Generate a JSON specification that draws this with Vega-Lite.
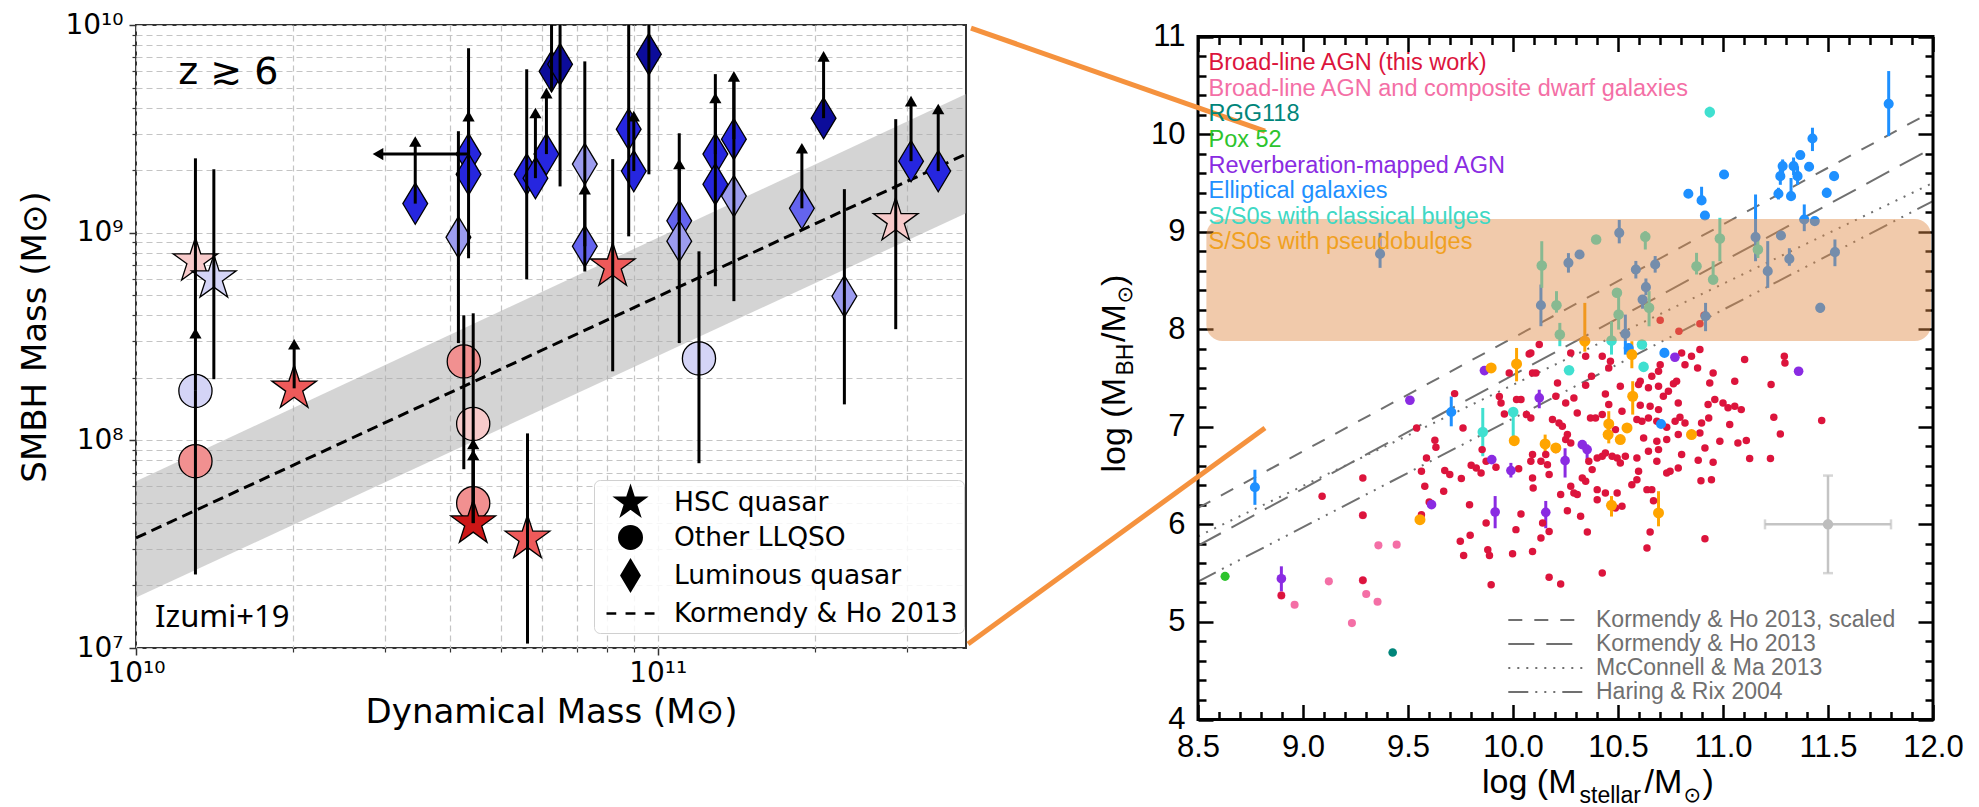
{
"$schema": "https://vega.github.io/schema/vega-lite/v6.json",
"background": "white",
"padding": {"left": 17, "top": 4, "right": 10, "bottom": 2},
"spacing": -8,
"columns": 2,
"align": "none",
"bounds": "full",
"resolve": {"scale": {"color": "independent", "shape": "independent", "size": "independent", "strokeDash": "independent"}, "legend": {"color": "independent", "shape": "independent", "size": "independent", "strokeDash": "independent"}},
"config": {"axis": {"labelBound": false, "labelFlush": false, "labelOverlap": false}, "legend": {"labelLimit": 0}},
"datasets": {
"kh": [{"x": 1e10, "y": 3.39e7, "lo": 1.75e7, "hi": 6.35e7}, {"x": 3.9e11, "y": 2.39e9, "lo": 1.24e9, "hi": 4.65e9}],
"lpts": [
{"x":1.30e10,"y":7.3e8,"kind":"HSC quasar","tone":"r0","lo":3.3e8,"hi":2.28e9},
{"x":1.41e10,"y":6.04e8,"kind":"HSC quasar","tone":"b0","lo":1.97e8,"hi":2.02e9},
{"x":1.30e10,"y":1.73e8,"kind":"Other LLQSO","tone":"b0","lim":3.28e8},
{"x":1.30e10,"y":7.94e7,"kind":"Other LLQSO","tone":"r1","lo":2.26e7,"hi":1.73e8},
{"x":2.01e10,"y":1.78e8,"kind":"HSC quasar","tone":"r2","lim":2.9e8},
{"x":3.43e10,"y":1.38e9,"kind":"Luminous quasar","tone":"b3","lim":2.75e9},
{"x":4.34e10,"y":2.39e9,"kind":"Luminous quasar","tone":"b3","lo":7.53e8,"hi":7.73e9,"lim":3.64e9,"xlim":2.91e10},
{"x":4.34e10,"y":1.91e9,"kind":"Luminous quasar","tone":"b3"},
{"x":4.15e10,"y":9.5e8,"kind":"Luminous quasar","tone":"b1","lo":2.94e8,"hi":3.08e9},
{"x":4.25e10,"y":2.4e8,"kind":"Other LLQSO","tone":"r1","lo":7.26e7,"hi":4.0e8},
{"x":4.43e10,"y":1.2e8,"kind":"Other LLQSO","tone":"r0","lo":4.0e7,"hi":4.09e8},
{"x":4.43e10,"y":4.98e7,"kind":"Other LLQSO","tone":"r1","lim":8.5e7},
{"x":4.43e10,"y":3.99e7,"kind":"HSC quasar","tone":"r3","lim":9.6e7},
{"x":5.63e10,"y":3.37e7,"kind":"HSC quasar","tone":"r2","lo":1.05e7,"hi":1.08e8},
{"x":5.61e10,"y":1.91e9,"kind":"Luminous quasar","tone":"b3","lo":5.96e8,"hi":6.12e9},
{"x":5.83e10,"y":1.83e9,"kind":"Luminous quasar","tone":"b3","lim":3.77e9},
{"x":6.12e10,"y":2.39e9,"kind":"Luminous quasar","tone":"b3","lim":4.7e9},
{"x":6.26e10,"y":5.98e9,"kind":"Luminous quasar","tone":"b4","lo":4.8e9,"hi":1e10},
{"x":6.50e10,"y":6.47e9,"kind":"Luminous quasar","tone":"b4","lo":1.67e9,"hi":1e10},
{"x":7.25e10,"y":2.14e9,"kind":"Luminous quasar","tone":"b1","lo":6.5e8,"hi":6.68e9},
{"x":7.25e10,"y":8.6e8,"kind":"Luminous quasar","tone":"b2","lim":1.62e9},
{"x":8.2e10,"y":6.89e8,"kind":"HSC quasar","tone":"r2","lo":2.15e8,"hi":2.26e9},
{"x":8.8e10,"y":3.15e9,"kind":"Luminous quasar","tone":"b3","lo":9.6e8,"hi":1e10},
{"x":9.0e10,"y":1.98e9,"kind":"Luminous quasar","tone":"b3","lim":3.64e9},
{"x":9.62e10,"y":7.23e9,"kind":"Luminous quasar","tone":"b4","lo":1.91e9,"hi":1e10},
{"x":1.10e11,"y":1.14e9,"kind":"Luminous quasar","tone":"b2","lim":2.14e9},
{"x":1.10e11,"y":9.1e8,"kind":"Luminous quasar","tone":"b1","lo":2.94e8,"hi":3.01e9},
{"x":1.20e11,"y":2.48e8,"kind":"Other LLQSO","tone":"b0","lo":7.76e7,"hi":8.13e8},
{"x":1.29e11,"y":2.39e9,"kind":"Luminous quasar","tone":"b3","lim":4.45e9},
{"x":1.29e11,"y":1.71e9,"kind":"Luminous quasar","tone":"b3","lo":5.52e8,"hi":5.8e9},
{"x":1.40e11,"y":2.82e9,"kind":"Luminous quasar","tone":"b3","lo":4.68e8,"hi":5.66e9,"lim":5.66e9},
{"x":1.40e11,"y":1.5e9,"kind":"Luminous quasar","tone":"b1"},
{"x":1.89e11,"y":1.31e9,"kind":"Luminous quasar","tone":"b2","lim":2.55e9},
{"x":2.08e11,"y":3.56e9,"kind":"Luminous quasar","tone":"b4","lim":7.06e9},
{"x":2.28e11,"y":4.94e8,"kind":"Luminous quasar","tone":"b1","lo":1.49e8,"hi":1.62e9},
{"x":2.86e11,"y":1.14e9,"kind":"HSC quasar","tone":"r0","lo":3.43e8,"hi":3.52e9},
{"x":3.06e11,"y":2.21e9,"kind":"Luminous quasar","tone":"b3","lim":4.3e9},
{"x":3.45e11,"y":1.98e9,"kind":"Luminous quasar","tone":"b3","lim":3.94e9}
],
"rlines": [
{"model":"Kormendy & Ho 2013, scaled","x":8.5,"y":6.168},{"model":"Kormendy & Ho 2013, scaled","x":12,"y":10.236},
{"model":"Kormendy & Ho 2013","x":8.5,"y":5.782},{"model":"Kormendy & Ho 2013","x":12,"y":9.86},
{"model":"McConnell & Ma 2013","x":8.5,"y":5.877},{"model":"McConnell & Ma 2013","x":12,"y":9.5},
{"model":"Haring & Rix 2004","x":8.5,"y":5.414},{"model":"Haring & Rix 2004","x":12,"y":9.313}
],
"cross": [{"x":11.5,"y":6.0,"xlo":11.2,"xhi":11.8,"ylo":5.5,"yhi":6.5}],
"rpts": [
{"cat":"dwarf","x":9.359,"y":5.785},{"cat":"dwarf","x":9.446,"y":5.792},{"cat":"dwarf","x":9.123,"y":5.416},{"cat":"dwarf","x":8.96,"y":5.176},{"cat":"dwarf","x":8.897,"y":5.272},{"cat":"dwarf","x":9.233,"y":4.988},{"cat":"dwarf","x":9.301,"y":5.286},{"cat":"dwarf","x":9.355,"y":5.207},{"cat":"dwarf","x":9.285,"y":6.093},{"cat":"dwarf","x":9.285,"y":5.426},
{"cat":"agn","x":9.722,"y":7.34},{"cat":"agn","x":9.541,"y":6.988},{"cat":"agn","x":9.628,"y":6.862},{"cat":"agn","x":9.633,"y":6.79},{"cat":"agn","x":9.588,"y":6.681},{"cat":"agn","x":9.564,"y":6.544},{"cat":"agn","x":9.58,"y":6.39},{"cat":"agn","x":9.601,"y":6.229},{"cat":"agn","x":9.564,"y":6.099},{"cat":"agn","x":9.675,"y":6.551},
{"cat":"agn","x":9.699,"y":6.51},{"cat":"agn","x":9.67,"y":6.339},{"cat":"agn","x":9.754,"y":6.469},{"cat":"agn","x":9.762,"y":6.988},{"cat":"agn","x":9.793,"y":6.202},{"cat":"agn","x":9.801,"y":6.605},{"cat":"agn","x":9.825,"y":6.578},{"cat":"agn","x":9.848,"y":6.527},{"cat":"agn","x":9.853,"y":6.766},{"cat":"agn","x":9.872,"y":6.646},
{"cat":"agn","x":9.919,"y":6.585},{"cat":"agn","x":9.935,"y":7.31},{"cat":"agn","x":9.943,"y":7.245},{"cat":"agn","x":9.959,"y":7.132},{"cat":"agn","x":10.017,"y":7.28},{"cat":"agn","x":10.038,"y":7.28},{"cat":"agn","x":10.064,"y":7.125},{"cat":"agn","x":10.085,"y":7.091},{"cat":"agn","x":10.085,"y":6.646},{"cat":"agn","x":10.093,"y":6.476},
{"cat":"agn","x":10.096,"y":6.373},{"cat":"agn","x":10.027,"y":6.571},{"cat":"agn","x":10.014,"y":5.946},{"cat":"agn","x":10.038,"y":6.106},{"cat":"agn","x":9.872,"y":6.014},{"cat":"agn","x":9.88,"y":5.74},{"cat":"agn","x":9.888,"y":5.682},{"cat":"agn","x":9.896,"y":5.381},{"cat":"agn","x":9.796,"y":5.888},{"cat":"agn","x":9.749,"y":5.826},
{"cat":"agn","x":9.765,"y":5.682},{"cat":"agn","x":9.998,"y":5.699},{"cat":"agn","x":10.093,"y":5.723},{"cat":"agn","x":9.091,"y":6.288},{"cat":"agn","x":9.285,"y":6.476},{"cat":"agn","x":9.285,"y":6.093},{"cat":"agn","x":9.285,"y":5.426},{"cat":"agn","x":8.897,"y":5.272},
{"cat":"agn","x":10.212,"y":7.45},{"cat":"agn","x":10.346,"y":7.426},{"cat":"agn","x":10.44,"y":7.337},{"cat":"agn","x":10.511,"y":7.416},{"cat":"agn","x":10.598,"y":7.433},{"cat":"agn","x":10.645,"y":7.399},{"cat":"agn","x":10.693,"y":7.416},{"cat":"agn","x":10.74,"y":7.364},{"cat":"agn","x":10.764,"y":7.44},{"cat":"agn","x":10.937,"y":7.45},
{"cat":"agn","x":11.056,"y":7.467},{"cat":"agn","x":11.229,"y":7.433},{"cat":"agn","x":10.204,"y":7.313},{"cat":"agn","x":10.251,"y":7.245},{"cat":"agn","x":10.29,"y":7.296},{"cat":"agn","x":10.456,"y":7.228},{"cat":"agn","x":10.519,"y":7.159},{"cat":"agn","x":10.606,"y":7.221},{"cat":"agn","x":10.653,"y":7.211},{"cat":"agn","x":10.693,"y":7.176},
{"cat":"agn","x":10.716,"y":7.313},{"cat":"agn","x":10.787,"y":7.245},{"cat":"agn","x":10.929,"y":7.228},{"cat":"agn","x":10.961,"y":7.279},{"cat":"agn","x":11.0,"y":7.245},{"cat":"agn","x":11.024,"y":7.194},{"cat":"agn","x":11.056,"y":7.211},{"cat":"agn","x":11.087,"y":7.176},{"cat":"agn","x":11.242,"y":7.098},{"cat":"agn","x":11.47,"y":7.064},
{"cat":"agn","x":11.273,"y":6.927},{"cat":"agn","x":10.188,"y":7.074},{"cat":"agn","x":10.219,"y":7.04},{"cat":"agn","x":10.235,"y":7.005},{"cat":"agn","x":10.306,"y":7.142},{"cat":"agn","x":10.369,"y":7.091},{"cat":"agn","x":10.393,"y":7.091},{"cat":"agn","x":10.425,"y":7.125},{"cat":"agn","x":10.59,"y":7.074},{"cat":"agn","x":10.614,"y":7.057},
{"cat":"agn","x":10.645,"y":7.091},{"cat":"agn","x":10.685,"y":7.057},{"cat":"agn","x":10.732,"y":6.995},{"cat":"agn","x":10.772,"y":7.057},{"cat":"agn","x":10.795,"y":7.098},{"cat":"agn","x":10.819,"y":7.04},{"cat":"agn","x":10.89,"y":6.937},{"cat":"agn","x":10.898,"y":7.04},{"cat":"agn","x":10.914,"y":6.783},{"cat":"agn","x":10.932,"y":7.091},
{"cat":"agn","x":10.985,"y":6.852},{"cat":"agn","x":11.032,"y":7.023},{"cat":"agn","x":11.071,"y":6.835},{"cat":"agn","x":11.111,"y":6.859},{"cat":"agn","x":11.127,"y":6.674},{"cat":"agn","x":11.226,"y":6.674},{"cat":"agn","x":10.488,"y":6.971},{"cat":"agn","x":10.622,"y":6.886},{"cat":"agn","x":10.685,"y":6.852},{"cat":"agn","x":10.732,"y":6.869},
{"cat":"agn","x":10.787,"y":6.92},{"cat":"agn","x":10.093,"y":6.715},{"cat":"agn","x":10.156,"y":6.715},{"cat":"agn","x":10.164,"y":6.612},{"cat":"agn","x":10.133,"y":6.646},{"cat":"agn","x":10.204,"y":6.766},{"cat":"agn","x":10.251,"y":6.869},{"cat":"agn","x":10.259,"y":6.92},{"cat":"agn","x":10.275,"y":6.835},{"cat":"agn","x":10.361,"y":6.646},
{"cat":"agn","x":10.377,"y":6.561},{"cat":"agn","x":10.33,"y":6.476},{"cat":"agn","x":10.346,"y":6.441},{"cat":"agn","x":10.401,"y":6.681},{"cat":"agn","x":10.425,"y":6.698},{"cat":"agn","x":10.44,"y":6.732},{"cat":"agn","x":10.472,"y":6.698},{"cat":"agn","x":10.496,"y":6.681},{"cat":"agn","x":10.511,"y":6.629},{"cat":"agn","x":10.535,"y":6.698},
{"cat":"agn","x":10.59,"y":6.681},{"cat":"agn","x":10.598,"y":6.544},{"cat":"agn","x":10.59,"y":6.458},{"cat":"agn","x":10.566,"y":6.407},{"cat":"agn","x":10.645,"y":6.749},{"cat":"agn","x":10.685,"y":6.646},{"cat":"agn","x":10.693,"y":6.766},{"cat":"agn","x":10.732,"y":6.527},{"cat":"agn","x":10.748,"y":6.544},{"cat":"agn","x":10.787,"y":6.578},
{"cat":"agn","x":10.803,"y":6.715},{"cat":"agn","x":10.882,"y":6.657},{"cat":"agn","x":10.953,"y":6.636},{"cat":"agn","x":10.895,"y":6.448},{"cat":"agn","x":10.945,"y":6.458},{"cat":"agn","x":10.172,"y":6.51},{"cat":"agn","x":10.227,"y":6.305},{"cat":"agn","x":10.275,"y":6.39},{"cat":"agn","x":10.29,"y":6.322},{"cat":"agn","x":10.306,"y":6.305},
{"cat":"agn","x":10.401,"y":6.356},{"cat":"agn","x":10.401,"y":6.253},{"cat":"agn","x":10.44,"y":6.322},{"cat":"agn","x":10.496,"y":6.322},{"cat":"agn","x":10.519,"y":6.185},{"cat":"agn","x":10.488,"y":6.168},{"cat":"agn","x":10.638,"y":6.356},{"cat":"agn","x":10.661,"y":6.356},{"cat":"agn","x":10.669,"y":6.243},{"cat":"agn","x":10.133,"y":5.86},
{"cat":"agn","x":10.141,"y":6.014},{"cat":"agn","x":10.172,"y":5.928},{"cat":"agn","x":10.259,"y":6.14},{"cat":"agn","x":10.322,"y":6.082},{"cat":"agn","x":10.354,"y":5.922},{"cat":"agn","x":10.172,"y":5.457},{"cat":"agn","x":10.227,"y":5.388},{"cat":"agn","x":10.425,"y":5.501},{"cat":"agn","x":10.638,"y":5.758},{"cat":"agn","x":10.653,"y":5.922},
{"cat":"agn","x":10.914,"y":5.853},{"cat":"agn","x":10.077,"y":7.747},{"cat":"agn","x":10.125,"y":7.843},{"cat":"agn","x":10.109,"y":7.552},{"cat":"agn","x":10.275,"y":7.757},{"cat":"agn","x":10.346,"y":7.723},{"cat":"agn","x":10.374,"y":7.518},{"cat":"agn","x":10.425,"y":7.723},{"cat":"agn","x":10.464,"y":7.672},{"cat":"agn","x":10.456,"y":7.603},
{"cat":"agn","x":10.606,"y":7.467},{"cat":"agn","x":10.661,"y":7.518},{"cat":"agn","x":10.693,"y":7.569},{"cat":"agn","x":10.701,"y":7.637},{"cat":"agn","x":10.779,"y":7.467},{"cat":"agn","x":10.803,"y":7.757},{"cat":"agn","x":10.819,"y":7.637},{"cat":"agn","x":10.85,"y":7.723},{"cat":"agn","x":10.879,"y":7.603},{"cat":"agn","x":10.89,"y":7.791},
{"cat":"agn","x":10.953,"y":7.552},{"cat":"agn","x":11.103,"y":7.689},{"cat":"agn","x":11.292,"y":7.723},{"cat":"agn","x":11.295,"y":7.655},{"cat":"agn","x":10.701,"y":8.092},{"cat":"agn","x":10.79,"y":7.979},{"cat":"agn","x":10.89,"y":8.055},{"cat":"agn","x":10.91,"y":8.144},{"cat":"agn","x":9.982,"y":7.552},{"cat":"agn","x":10.085,"y":7.757},{"cat":"agn","x":10.093,"y":7.552},
{"cat":"pox","x":8.629,"y":5.467},
{"cat":"rgg","x":9.427,"y":4.687},
{"cat":"rm","x":9.509,"y":7.272},{"cat":"rm","x":8.897,"y":5.443,"lo":5.31,"hi":5.57},{"cat":"rm","x":9.612,"y":6.202},{"cat":"rm","x":9.899,"y":6.664},{"cat":"rm","x":9.915,"y":6.127,"lo":5.96,"hi":6.29},{"cat":"rm","x":9.99,"y":6.551,"lo":6.48,"hi":6.63},{"cat":"rm","x":9.864,"y":7.576},{"cat":"rm","x":10.771,"y":7.713},{"cat":"rm","x":11.36,"y":7.569},{"cat":"rm","x":10.125,"y":7.296,"lo":7.19,"hi":7.38},{"cat":"rm","x":10.33,"y":6.817},{"cat":"rm","x":10.353,"y":6.766,"lo":6.66,"hi":6.82},{"cat":"rm","x":10.248,"y":6.653,"lo":6.48,"hi":6.78},{"cat":"rm","x":10.156,"y":6.123,"lo":5.96,"hi":6.24},
{"cat":"ell","x":11.789,"y":10.31,"lo":9.979,"hi":10.646},{"cat":"ell","x":11.426,"y":9.955,"lo":9.826,"hi":10.065},{"cat":"ell","x":11.368,"y":9.785},{"cat":"ell","x":11.284,"y":9.672,"lo":9.6,"hi":9.74},{"cat":"ell","x":11.336,"y":9.672,"lo":9.58,"hi":9.76},{"cat":"ell","x":11.273,"y":9.569,"lo":9.48,"hi":9.66},{"cat":"ell","x":11.355,"y":9.569,"lo":9.48,"hi":9.67},{"cat":"ell","x":11.41,"y":9.665},{"cat":"ell","x":11.529,"y":9.569},{"cat":"ell","x":11.264,"y":9.388,"lo":9.33,"hi":9.45},
{"cat":"ell","x":11.324,"y":9.364,"lo":9.33,"hi":9.55},{"cat":"ell","x":11.494,"y":9.398,"lo":9.35,"hi":9.45},{"cat":"ell","x":10.835,"y":9.388},{"cat":"ell","x":10.898,"y":9.32,"lo":9.28,"hi":9.46},{"cat":"ell","x":10.914,"y":9.166},{"cat":"ell","x":11.005,"y":9.586,"lo":9.55,"hi":9.62},{"cat":"ell","x":10.506,"y":8.988,"lo":8.88,"hi":9.12},{"cat":"ell","x":10.264,"y":8.68,"lo":8.58,"hi":8.78},{"cat":"ell","x":10.317,"y":8.766},{"cat":"ell","x":10.133,"y":8.246,"lo":8.031,"hi":8.458},
{"cat":"ell","x":10.585,"y":8.612,"lo":8.52,"hi":8.7},{"cat":"ell","x":10.677,"y":8.663,"lo":8.58,"hi":8.75},{"cat":"ell","x":10.633,"y":8.431,"lo":8.35,"hi":8.52},{"cat":"ell","x":10.617,"y":8.304,"lo":8.21,"hi":8.35},{"cat":"ell","x":10.535,"y":7.952,"lo":7.74,"hi":8.15},{"cat":"ell","x":10.917,"y":8.133,"lo":7.98,"hi":8.27},{"cat":"ell","x":11.155,"y":8.944,"lo":8.697,"hi":9.381},{"cat":"ell","x":11.213,"y":8.595,"lo":8.424,"hi":8.903},{"cat":"ell","x":11.276,"y":8.961},{"cat":"ell","x":11.316,"y":8.721,"lo":8.65,"hi":8.83},
{"cat":"ell","x":11.387,"y":9.125,"lo":9.005,"hi":9.279},{"cat":"ell","x":11.437,"y":9.108},{"cat":"ell","x":11.533,"y":8.79,"lo":8.646,"hi":8.92},{"cat":"ell","x":11.463,"y":8.219,"lo":8.17,"hi":8.27},{"cat":"ell","x":9.367,"y":8.772,"lo":8.629,"hi":8.988},{"cat":"ell","x":8.771,"y":6.38,"lo":6.2,"hi":6.56},{"cat":"ell","x":9.706,"y":7.152,"lo":7.005,"hi":7.31},{"cat":"ell","x":10.721,"y":7.757},{"cat":"ell","x":10.705,"y":7.029},{"cat":"ell","x":10.551,"y":7.808},
{"cat":"cb","x":10.137,"y":8.653,"lo":8.424,"hi":8.902},{"cat":"cb","x":10.207,"y":8.246,"lo":8.17,"hi":8.39},{"cat":"cb","x":10.396,"y":8.92},{"cat":"cb","x":10.63,"y":8.947,"lo":8.817,"hi":9.005},{"cat":"cb","x":10.874,"y":8.646,"lo":8.561,"hi":8.783},{"cat":"cb","x":10.953,"y":8.509,"lo":8.458,"hi":8.697},{"cat":"cb","x":10.985,"y":8.93,"lo":8.697,"hi":9.142},{"cat":"cb","x":11.166,"y":8.817,"lo":8.73,"hi":8.97},{"cat":"cb","x":10.495,"y":8.373},{"cat":"cb","x":10.503,"y":8.15,"lo":7.996,"hi":8.355},
{"cat":"cb","x":10.648,"y":8.219,"lo":8.03,"hi":8.39},{"cat":"cb","x":10.223,"y":7.945,"lo":7.826,"hi":8.065},{"cat":"cb","x":10.469,"y":7.884,"lo":7.74,"hi":8.08},{"cat":"cb","x":10.937,"y":10.226,"lo":10.17,"hi":10.28},{"cat":"cb","x":10.614,"y":7.843},{"cat":"cb","x":10.622,"y":7.614},{"cat":"cb","x":10.267,"y":7.579},{"cat":"cb","x":9.856,"y":6.947,"lo":6.698,"hi":7.193},{"cat":"cb","x":10.001,"y":7.152,"lo":6.9,"hi":7.16},
{"cat":"pb","x":10.342,"y":7.877,"lo":7.77,"hi":8.27},{"cat":"pb","x":10.017,"y":7.644,"lo":7.466,"hi":7.808},{"cat":"pb","x":10.566,"y":7.74,"lo":7.6,"hi":7.877},{"cat":"pb","x":9.896,"y":7.603},{"cat":"pb","x":9.557,"y":6.048},{"cat":"pb","x":10.006,"y":6.858},{"cat":"pb","x":10.153,"y":6.824,"lo":6.73,"hi":6.92},{"cat":"pb","x":10.204,"y":6.783},{"cat":"pb","x":10.456,"y":7.029,"lo":6.83,"hi":7.16},{"cat":"pb","x":10.453,"y":6.92},
{"cat":"pb","x":10.511,"y":6.869},{"cat":"pb","x":10.57,"y":7.313,"lo":7.125,"hi":7.467},{"cat":"pb","x":10.693,"y":6.117,"lo":5.98,"hi":6.34},{"cat":"pb","x":10.469,"y":6.195,"lo":6.08,"hi":6.29},{"cat":"pb","x":10.85,"y":6.92},{"cat":"pb","x":10.543,"y":6.988}
]
},
"concat": [
{
"width": 830, "height": 623,
"view": {"stroke": "#333333", "strokeWidth": 2},
"resolve": {"axis": {"x": "independent", "y": "independent"}},
"layer": [
{"data": {"name": "kh"}, "mark": {"type": "area", "color": "#a9a9a9", "opacity": 0.5},
 "encoding": {
  "x": {"field": "x", "type": "quantitative", "scale": {"type": "log", "domain": [1e10, 3.9e11], "nice": false},
        "axis": {"orient": "bottom", "values": [1e10, 1e11], "labelExpr": "datum.value < 5e10 ? '10¹⁰' : '10¹¹'", "labelFont": "DejaVu Sans", "labelFontSize": 28, "labelColor": "black", "labelPadding": 4, "tickSize": 7, "tickWidth": 1.5, "tickColor": "#333333", "domain": false, "grid": true, "gridColor": "#c4c4c4", "gridDash": [6, 4], "gridWidth": 1.2, "title": "Dynamical Mass (M⊙)", "titleFont": "DejaVu Sans", "titleFontSize": 34, "titleFontWeight": "normal", "titleColor": "black", "titlePadding": 8}},
  "y": {"field": "lo", "type": "quantitative", "scale": {"type": "log", "domain": [1e7, 1e10], "nice": false},
        "axis": {"orient": "left", "values": [1e7, 1e8, 1e9, 1e10], "labelExpr": "datum.value < 5e7 ? '10⁷' : datum.value < 5e8 ? '10⁸' : datum.value < 5e9 ? '10⁹' : '10¹⁰'", "labelFont": "DejaVu Sans", "labelFontSize": 28, "labelColor": "black", "labelPadding": 6, "tickSize": 7, "tickWidth": 1.5, "tickColor": "#333333", "domain": false, "grid": true, "gridColor": "#c4c4c4", "gridDash": [6, 4], "gridWidth": 1.2, "title": "SMBH Mass (M⊙)", "titleFont": "DejaVu Sans", "titleFontSize": 34, "titleFontWeight": "normal", "titleColor": "black", "titlePadding": 12}},
  "y2": {"field": "hi"}
 }},
{"data": {"name": "kh"}, "mark": {"type": "line", "color": "black", "strokeWidth": 3, "strokeDash": [11, 6]},
 "encoding": {
  "x": {"field": "x", "type": "quantitative", "scale": {"type": "log", "domain": [1e10, 3.9e11], "nice": false},
        "axis": {"orient": "bottom", "values": [2e10, 3e10, 4e10, 5e10, 6e10, 7e10, 8e10, 9e10, 2e11, 3e11], "labels": false, "tickSize": 4, "tickWidth": 1.2, "tickColor": "#333333", "domain": false, "grid": true, "gridColor": "#c4c4c4", "gridDash": [6, 4], "gridWidth": 1.2, "title": null}},
  "y": {"field": "y", "type": "quantitative", "scale": {"type": "log", "domain": [1e7, 1e10], "nice": false},
        "axis": {"orient": "left", "values": [2e7, 3e7, 4e7, 5e7, 6e7, 7e7, 8e7, 9e7, 2e8, 3e8, 4e8, 5e8, 6e8, 7e8, 8e8, 9e8, 2e9, 3e9, 4e9, 5e9, 6e9, 7e9, 8e9, 9e9], "labels": false, "tickSize": 4, "tickWidth": 1.2, "tickColor": "#333333", "domain": false, "grid": true, "gridColor": "#c4c4c4", "gridDash": [6, 4], "gridWidth": 1.2, "title": null}}
 }},
{"data": {"name": "lpts"}, "mark": {"type": "point", "filled": true, "opacity": 1, "stroke": "black", "strokeWidth": 1.3},
 "encoding": {
  "x": {"field": "x", "type": "quantitative", "scale": {"type": "log", "domain": [1e10, 3.9e11], "nice": false}, "axis": null},
  "y": {"field": "y", "type": "quantitative", "scale": {"type": "log", "domain": [1e7, 1e10], "nice": false}, "axis": null},
  "shape": {"field": "kind", "type": "nominal",
    "scale": {"domain": ["HSC quasar", "Other LLQSO", "Luminous quasar", "Kormendy & Ho 2013"],
              "range": ["M0,-1L0.2245,-0.309L0.951,-0.309L0.363,0.118L0.588,0.809L0,0.382L-0.588,0.809L-0.363,0.118L-0.951,-0.309L-0.2245,-0.309Z", "M0.75,0A0.75,0.75 0 1,1 -0.75,0A0.75,0.75 0 1,1 0.75,0Z", "M0,-1L0.6,0L0,1L-0.6,0Z", "M-1.6,0L-0.95,0M-0.33,0L0.33,0M0.95,0L1.6,0"]},
    "legend": {"orient": "none", "legendX": 458, "legendY": 455, "title": null, "symbolFillColor": "black", "symbolStrokeColor": "black", "symbolStrokeWidth": 2.5, "symbolSize": 900, "symbolOffset": 14, "labelFont": "DejaVu Sans", "labelFontSize": 26.5, "labelColor": "black", "labelOffset": 27, "rowPadding": 1, "padding": 6, "fillColor": "rgba(255,255,255,0.85)", "strokeColor": "#d0d0d0", "cornerRadius": 6}},
  "color": {"field": "tone", "type": "nominal", "scale": {"domain": ["r0", "r1", "r2", "r3", "b0", "b1", "b2", "b3", "b4"], "range": ["#f7caca", "#f19090", "#ee5a5a", "#cc1616", "#d4d4f6", "#9c9cef", "#6464ee", "#2626df", "#0c0c9a"]}, "legend": null},
  "size": {"field": "kind", "type": "nominal", "scale": {"domain": ["HSC quasar", "Other LLQSO", "Luminous quasar"], "range": [2209, 1708, 2025]}, "legend": null}
 }},
{"data": {"name": "lpts"}, "transform": [{"filter": "isValid(datum.lo)"}], "mark": {"type": "rule", "color": "black", "strokeWidth": 3},
 "encoding": {
  "x": {"field": "x", "type": "quantitative", "scale": {"type": "log", "domain": [1e10, 3.9e11], "nice": false}, "axis": null},
  "y": {"field": "lo", "type": "quantitative", "scale": {"type": "log", "domain": [1e7, 1e10], "nice": false}, "axis": null},
  "y2": {"field": "hi"}
 }},
{"data": {"name": "lpts"}, "transform": [{"filter": "isValid(datum.lim)"}], "mark": {"type": "rule", "color": "black", "strokeWidth": 3},
 "encoding": {
  "x": {"field": "x", "type": "quantitative", "scale": {"type": "log", "domain": [1e10, 3.9e11], "nice": false}, "axis": null},
  "y": {"field": "y", "type": "quantitative", "scale": {"type": "log", "domain": [1e7, 1e10], "nice": false}, "axis": null},
  "y2": {"field": "lim"}
 }},
{"data": {"name": "lpts"}, "transform": [{"filter": "isValid(datum.lim)"}], "mark": {"type": "point", "shape": "triangle-up", "filled": true, "color": "black", "opacity": 1, "size": 150},
 "encoding": {
  "x": {"field": "x", "type": "quantitative", "scale": {"type": "log", "domain": [1e10, 3.9e11], "nice": false}, "axis": null},
  "y": {"field": "lim", "type": "quantitative", "scale": {"type": "log", "domain": [1e7, 1e10], "nice": false}, "axis": null}
 }},
{"data": {"name": "lpts"}, "transform": [{"filter": "isValid(datum.xlim)"}], "mark": {"type": "rule", "color": "black", "strokeWidth": 3},
 "encoding": {
  "x": {"field": "xlim", "type": "quantitative", "scale": {"type": "log", "domain": [1e10, 3.9e11], "nice": false}, "axis": null},
  "x2": {"field": "x"},
  "y": {"field": "y", "type": "quantitative", "scale": {"type": "log", "domain": [1e7, 1e10], "nice": false}, "axis": null}
 }},
{"data": {"name": "lpts"}, "transform": [{"filter": "isValid(datum.xlim)"}], "mark": {"type": "point", "shape": "triangle-left", "filled": true, "color": "black", "opacity": 1, "size": 150},
 "encoding": {
  "x": {"field": "xlim", "type": "quantitative", "scale": {"type": "log", "domain": [1e10, 3.9e11], "nice": false}, "axis": null},
  "y": {"field": "y", "type": "quantitative", "scale": {"type": "log", "domain": [1e7, 1e10], "nice": false}, "axis": null}
 }},
{"data": {"values": [{}]}, "mark": {"type": "text", "text": "z ≳ 6", "font": "DejaVu Sans", "fontSize": 38, "align": "left", "baseline": "middle", "color": "black"},
 "encoding": {
  "x": {"datum": 1.205e10, "type": "quantitative", "scale": {"type": "log", "domain": [1e10, 3.9e11], "nice": false},
        "axis": {"orient": "top", "domain": false, "ticks": false, "labels": false, "grid": false, "title": null, "minExtent": 20, "maxExtent": 20}},
  "y": {"datum": 5.86e9, "type": "quantitative", "scale": {"type": "log", "domain": [1e7, 1e10], "nice": false}, "axis": null}
 }},
{"data": {"values": [{}]}, "mark": {"type": "text", "text": "Izumi+19", "font": "Noto Sans", "fontSize": 31, "align": "left", "baseline": "middle", "color": "black"},
 "encoding": {
  "x": {"datum": 1.088e10, "type": "quantitative", "scale": {"type": "log", "domain": [1e10, 3.9e11], "nice": false}, "axis": null},
  "y": {"datum": 1.39e7, "type": "quantitative", "scale": {"type": "log", "domain": [1e7, 1e10], "nice": false}, "axis": null}
 }}
]
},
{
"width": 735, "height": 694.5,
"view": {"stroke": null},
"resolve": {"axis": {"x": "independent", "y": "independent"}},
"layer": [
{"data": {"name": "rlines"}, "mark": {"type": "line", "color": "#707070", "strokeWidth": 2},
 "encoding": {
  "x": {"field": "x", "type": "quantitative", "scale": {"domain": [8.5, 12], "nice": false, "zero": false},
        "axis": {"orient": "bottom", "values": [8.5, 9, 9.5, 10, 10.5, 11, 11.5, 12], "format": ".1f", "labelFont": "Liberation Sans", "labelFontSize": 31, "labelColor": "black", "labelPadding": 28, "tickSize": -15, "tickWidth": 2.5, "tickColor": "black", "domain": false, "grid": false,
                 "title": "log (M", "titleFont": "Liberation Sans", "titleFontSize": 34, "titleFontWeight": "normal", "titleColor": "black", "titleX": 378, "titleY": 73, "titleAlign": "right", "titleBaseline": "alphabetic"}},
  "y": {"field": "y", "type": "quantitative", "scale": {"domain": [4, 11.118], "nice": false, "zero": false},
        "axis": {"orient": "left", "values": [4, 5, 6, 7, 8, 9, 10, 11], "format": "d", "labelFont": "Liberation Sans", "labelFontSize": 31, "labelColor": "black", "labelPadding": 28, "tickSize": -15, "tickWidth": 2.5, "tickColor": "black", "domain": false, "grid": false,
                 "title": "log (M", "titleFont": "Liberation Sans", "titleFontSize": 34, "titleFontWeight": "normal", "titleColor": "black", "titleX": -74, "titleY": 447, "titleAlign": "left", "titleAngle": 270, "titleBaseline": "alphabetic"}},
  "strokeDash": {"field": "model", "type": "nominal",
    "scale": {"domain": ["Kormendy & Ho 2013, scaled", "Kormendy & Ho 2013", "McConnell & Ma 2013", "Haring & Rix 2004"], "range": [[14, 12], [26, 12], [2, 7], [20, 7, 2, 7, 2, 7, 2, 7]]},
    "legend": {"orient": "none", "legendX": 336, "legendY": 583.5, "title": null, "symbolType": "M-6.2,0L6.2,0", "symbolSize": 144, "symbolStrokeColor": "#707070", "symbolStrokeWidth": 2, "symbolFillColor": "transparent", "labelFont": "Liberation Sans", "labelFontSize": 23, "labelColor": "#707070", "labelOffset": 39, "rowPadding": 0, "padding": 0}}
 }},
{"data": {"name": "rpts"}, "transform": [{"filter": "isValid(datum.lo)"}], "mark": {"type": "rule", "strokeWidth": 3},
 "encoding": {
  "x": {"field": "x", "type": "quantitative", "scale": {"domain": [8.5, 12], "nice": false, "zero": false},
        "axis": {"orient": "bottom", "values": [8.6, 8.7, 8.8, 8.9, 9.1, 9.2, 9.3, 9.4, 9.6, 9.7, 9.8, 9.9, 10.1, 10.2, 10.3, 10.4, 10.6, 10.7, 10.8, 10.9, 11.1, 11.2, 11.3, 11.4, 11.6, 11.7, 11.8, 11.9], "labels": false, "tickSize": -8, "tickWidth": 2.5, "tickColor": "black", "domain": false, "grid": false,
                 "title": "stellar", "titleFont": "Liberation Sans", "titleFontSize": 23, "titleFontWeight": "normal", "titleColor": "black", "titleX": 381, "titleY": 83, "titleAlign": "left", "titleBaseline": "alphabetic"}},
  "y": {"field": "lo", "type": "quantitative", "scale": {"domain": [4, 11.118], "nice": false, "zero": false},
        "axis": {"orient": "left", "values": [4.2, 4.4, 4.6, 4.8, 5.2, 5.4, 5.6, 5.8, 6.2, 6.4, 6.6, 6.8, 7.2, 7.4, 7.6, 7.8, 8.2, 8.4, 8.6, 8.8, 9.2, 9.4, 9.6, 9.8, 10.2, 10.4, 10.6, 10.8], "labels": false, "tickSize": -8, "tickWidth": 2.5, "tickColor": "black", "domain": false, "grid": false,
                 "title": "BH", "titleFont": "Liberation Sans", "titleFontSize": 23, "titleFontWeight": "normal", "titleColor": "black", "titleX": -66, "titleY": 350, "titleAlign": "left", "titleAngle": 270, "titleBaseline": "alphabetic"}},
  "y2": {"field": "hi"},
  "color": {"field": "cat", "type": "nominal", "scale": {"domain": ["agn", "dwarf", "rgg", "pox", "rm", "ell", "cb", "pb"], "range": ["#DC143C", "#F46FA6", "#00857A", "#2DC42D", "#8A2BE2", "#1E90FF", "#40E0D0", "#FFA500"]},
    "legend": {"orient": "none", "legendX": -13, "legendY": 26.5, "title": null, "symbolType": "circle", "symbolSize": 1, "symbolOpacity": 0, "symbolStrokeWidth": 0, "labelOffset": 0, "padding": 0, "rowPadding": 0.6, "labelFont": "Liberation Sans", "labelFontSize": 23.5,
      "labelExpr": "datum.value == 'agn' ? 'Broad-line AGN (this work)' : datum.value == 'dwarf' ? 'Broad-line AGN and composite dwarf galaxies' : datum.value == 'rgg' ? 'RGG118' : datum.value == 'pox' ? 'Pox 52' : datum.value == 'rm' ? 'Reverberation-mapped AGN' : datum.value == 'ell' ? 'Elliptical galaxies' : datum.value == 'cb' ? 'S/S0s with classical bulges' : 'S/S0s with pseudobulges'",
      "labelColor": {"expr": "datum.value == 'agn' ? '#DC143C' : datum.value == 'dwarf' ? '#F46FA6' : datum.value == 'rgg' ? '#00857A' : datum.value == 'pox' ? '#2DC42D' : datum.value == 'rm' ? '#8A2BE2' : datum.value == 'ell' ? '#1E90FF' : datum.value == 'cb' ? '#40D8C4' : '#F0A020'"}}}
 }},
{"data": {"name": "rpts"}, "mark": {"type": "point", "filled": true, "opacity": 1, "strokeWidth": 0},
 "encoding": {
  "x": {"field": "x", "type": "quantitative", "scale": {"domain": [8.5, 12], "nice": false, "zero": false},
        "axis": {"orient": "top", "offset": -11.5, "values": [8.5, 9, 9.5, 10, 10.5, 11, 11.5, 12], "labels": false, "tickSize": -15, "tickWidth": 2.5, "tickColor": "black", "domain": false, "grid": false, "title": null, "minExtent": 31.5, "maxExtent": 31.5}},
  "y": {"field": "y", "type": "quantitative", "scale": {"domain": [4, 11.118], "nice": false, "zero": false},
        "axis": {"orient": "right", "values": [4, 5, 6, 7, 8, 9, 10, 11], "labels": false, "tickSize": -15, "tickWidth": 2.5, "tickColor": "black", "domain": false, "grid": false, "title": null}},
  "color": {"field": "cat", "type": "nominal", "scale": {"domain": ["agn", "dwarf", "rgg", "pox", "rm", "ell", "cb", "pb"], "range": ["#DC143C", "#F46FA6", "#00857A", "#2DC42D", "#8A2BE2", "#1E90FF", "#40E0D0", "#FFA500"]},
    "legend": {"orient": "none", "legendX": -13, "legendY": 26.5, "title": null, "symbolType": "circle", "symbolSize": 1, "symbolOpacity": 0, "symbolStrokeWidth": 0, "labelOffset": 0, "padding": 0, "rowPadding": 0.6, "labelFont": "Liberation Sans", "labelFontSize": 23.5,
      "labelExpr": "datum.value == 'agn' ? 'Broad-line AGN (this work)' : datum.value == 'dwarf' ? 'Broad-line AGN and composite dwarf galaxies' : datum.value == 'rgg' ? 'RGG118' : datum.value == 'pox' ? 'Pox 52' : datum.value == 'rm' ? 'Reverberation-mapped AGN' : datum.value == 'ell' ? 'Elliptical galaxies' : datum.value == 'cb' ? 'S/S0s with classical bulges' : 'S/S0s with pseudobulges'",
      "labelColor": {"expr": "datum.value == 'agn' ? '#DC143C' : datum.value == 'dwarf' ? '#F46FA6' : datum.value == 'rgg' ? '#00857A' : datum.value == 'pox' ? '#2DC42D' : datum.value == 'rm' ? '#8A2BE2' : datum.value == 'ell' ? '#1E90FF' : datum.value == 'cb' ? '#40D8C4' : '#F0A020'"}}},
  "size": {"field": "cat", "type": "nominal", "scale": {"domain": ["agn", "dwarf", "rgg", "pox", "rm", "ell", "cb", "pb"], "range": [56, 121, 144, 144, 144, 144, 144, 144]}, "legend": null}
 }},
{"data": {"name": "cross"}, "mark": {"type": "errorbar", "ticks": true, "size": 10, "thickness": 2.5, "color": "#c4c4c4"},
 "encoding": {
  "x": {"field": "xlo", "type": "quantitative", "scale": {"domain": [8.5, 12], "nice": false, "zero": false}, "axis": null},
  "x2": {"field": "xhi"},
  "y": {"field": "y", "type": "quantitative", "scale": {"domain": [4, 11.118], "nice": false, "zero": false}, "axis": null}
 }},
{"data": {"name": "cross"}, "mark": {"type": "errorbar", "ticks": true, "size": 10, "thickness": 2.5, "color": "#c4c4c4"},
 "encoding": {
  "x": {"field": "x", "type": "quantitative", "scale": {"domain": [8.5, 12], "nice": false, "zero": false}, "axis": null},
  "y": {"field": "ylo", "type": "quantitative", "scale": {"domain": [4, 11.118], "nice": false, "zero": false}, "axis": null},
  "y2": {"field": "yhi"}
 }},
{"data": {"name": "cross"}, "mark": {"type": "point", "filled": true, "opacity": 1, "color": "#bdbdbd", "size": 110},
 "encoding": {
  "x": {"field": "x", "type": "quantitative", "scale": {"domain": [8.5, 12], "nice": false, "zero": false},
        "axis": {"orient": "top", "offset": -11.5, "values": [8.6, 8.7, 8.8, 8.9, 9.1, 9.2, 9.3, 9.4, 9.6, 9.7, 9.8, 9.9, 10.1, 10.2, 10.3, 10.4, 10.6, 10.7, 10.8, 10.9, 11.1, 11.2, 11.3, 11.4, 11.6, 11.7, 11.8, 11.9], "labels": false, "tickSize": -8, "tickWidth": 2.5, "tickColor": "black", "domain": false, "grid": false, "title": null}},
  "y": {"field": "y", "type": "quantitative", "scale": {"domain": [4, 11.118], "nice": false, "zero": false},
        "axis": {"orient": "right", "values": [4.2, 4.4, 4.6, 4.8, 5.2, 5.4, 5.6, 5.8, 6.2, 6.4, 6.6, 6.8, 7.2, 7.4, 7.6, 7.8, 8.2, 8.4, 8.6, 8.8, 9.2, 9.4, 9.6, 9.8, 10.2, 10.4, 10.6, 10.8], "labels": false, "tickSize": -8, "tickWidth": 2.5, "tickColor": "black", "domain": false, "grid": false, "title": null}}
 }},
{"data": {"values": [{}]}, "mark": {"type": "rect", "color": "#E08A45", "opacity": 0.45, "cornerRadius": 16},
 "encoding": {
  "x": {"datum": 8.54, "type": "quantitative", "scale": {"domain": [8.5, 12], "nice": false, "zero": false},
        "axis": {"orient": "bottom", "domain": false, "ticks": false, "labels": false, "grid": false, "title": ")", "titleFont": "Liberation Sans", "titleFontSize": 34, "titleFontWeight": "normal", "titleColor": "black", "titleX": 504, "titleY": 73, "titleAlign": "left", "titleBaseline": "alphabetic"}},
  "x2": {"datum": 11.99},
  "y": {"datum": 9.13, "type": "quantitative", "scale": {"domain": [4, 11.118], "nice": false, "zero": false},
        "axis": {"orient": "left", "domain": false, "ticks": false, "labels": false, "grid": false, "title": ")", "titleFont": "Liberation Sans", "titleFontSize": 34, "titleFontWeight": "normal", "titleColor": "black", "titleX": -74, "titleY": 260.5, "titleAlign": "left", "titleAngle": 270, "titleBaseline": "alphabetic"}},
  "y2": {"datum": 7.88}
 }},
{"data": {"values": [{}]}, "mark": {"type": "rect", "filled": false, "color": "black", "strokeWidth": 3},
 "encoding": {
  "x": {"datum": 8.5, "type": "quantitative", "scale": {"domain": [8.5, 12], "nice": false, "zero": false}, "axis": null},
  "x2": {"datum": 12},
  "y": {"datum": 4, "type": "quantitative", "scale": {"domain": [4, 11.118], "nice": false, "zero": false}, "axis": null},
  "y2": {"datum": 11}
 }},
{"data": {"values": [{}]}, "mark": {"type": "rule", "color": "#F5923E", "strokeWidth": 5},
 "encoding": {
  "x": {"datum": 7.419, "type": "quantitative", "scale": {"domain": [8.5, 12], "nice": false, "zero": false},
        "axis": {"orient": "bottom", "domain": false, "ticks": false, "labels": false, "grid": false, "title": "/M", "titleFont": "Liberation Sans", "titleFontSize": 34, "titleFontWeight": "normal", "titleColor": "black", "titleX": 446, "titleY": 73, "titleAlign": "left", "titleBaseline": "alphabetic"}},
  "x2": {"datum": 8.819},
  "y": {"datum": 11.087, "type": "quantitative", "scale": {"domain": [4, 11.118], "nice": false, "zero": false},
        "axis": {"orient": "left", "domain": false, "ticks": false, "labels": false, "grid": false, "title": "/M", "titleFont": "Liberation Sans", "titleFontSize": 34, "titleFontWeight": "normal", "titleColor": "black", "titleX": -74, "titleY": 316.5, "titleAlign": "left", "titleAngle": 270, "titleBaseline": "alphabetic"}},
  "y2": {"datum": 10.031}
 }},
{"data": {"values": [{}]}, "mark": {"type": "rule", "color": "#F5923E", "strokeWidth": 5},
 "encoding": {
  "x": {"datum": 7.405, "type": "quantitative", "scale": {"domain": [8.5, 12], "nice": false, "zero": false},
        "axis": {"orient": "bottom", "domain": false, "ticks": false, "labels": false, "grid": false, "title": "⊙", "titleFont": "DejaVu Sans", "titleFontSize": 21, "titleFontWeight": "normal", "titleColor": "black", "titleX": 485, "titleY": 82, "titleAlign": "left", "titleBaseline": "alphabetic"}},
  "x2": {"datum": 8.819},
  "y": {"datum": 4.774, "type": "quantitative", "scale": {"domain": [4, 11.118], "nice": false, "zero": false},
        "axis": {"orient": "left", "domain": false, "ticks": false, "labels": false, "grid": false, "title": "⊙", "titleFont": "DejaVu Sans", "titleFontSize": 21, "titleFontWeight": "normal", "titleColor": "black", "titleX": -67, "titleY": 278, "titleAlign": "left", "titleAngle": 270, "titleBaseline": "alphabetic"}},
  "y2": {"datum": 6.987}
 }}
]
}
]
}
